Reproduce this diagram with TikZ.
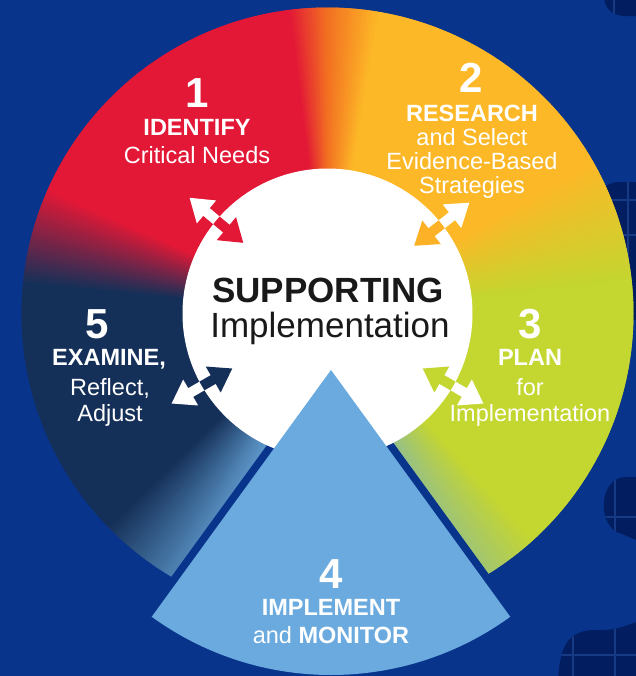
\documentclass[tikz,border=0pt]{standalone}
\usepackage{fontspec}
\setmainfont{Liberation Sans}
\usetikzlibrary{calc}
\begin{document}
\begin{tikzpicture}[x=0.5pt,y=-0.5pt]
\definecolor{bg}{RGB}{8,52,140}
\definecolor{decor}{RGB}{2,30,96}
\definecolor{decorline}{RGB}{22,58,132}
\definecolor{cred}{RGB}{226,24,54}
\definecolor{corange}{RGB}{242,110,34}
\definecolor{cgold}{RGB}{253,184,39}
\definecolor{cgreen}{RGB}{196,214,48}
\definecolor{cnavy}{RGB}{21,48,88}
\definecolor{clblue}{RGB}{106,170,222}
\colorlet{cteal}{cgreen!45!clblue}
\colorlet{cnavyl}{clblue!70!cnavy}
\tikzset{
  lbl/.style={text=white, font=\fontsize{11.75pt}{12pt}\selectfont, anchor=base, inner sep=0pt},
  lblb/.style={lbl, font=\fontsize{11.75pt}{12pt}\selectfont\bfseries},
  num/.style={text=white, font=\fontsize{21pt}{21pt}\selectfont\bfseries, anchor=base, inner sep=0pt},
  ctr/.style={text=black!90, font=\fontsize{17.5pt}{18pt}\selectfont, anchor=base, inner sep=0pt},
  ctrb/.style={ctr, font=\fontsize{17.5pt}{18pt}\selectfont\bfseries},
  dblarrow/.pic={
    \path[pic actions] (35,0) -- (13,15) -- (13,5) -- (-13,5) -- (-13,15) -- (-35,0)
      -- (-13,-15) -- (-13,-5) -- (13,-5) -- (13,-15) -- cycle;
  }
}
\useasboundingbox (0,0) rectangle (636,676);
\fill[bg] (0,0) rectangle (636,676);
% decorative dark shapes
\begin{scope}
  \clip (604,-5) .. controls (604,9) and (612,16) .. (626,16) -- (640,16) -- (640,-5) -- cycle;
  \fill[decor] (600,-5) rectangle (640,20);
  \draw[decorline, line width=1.2] (614,-5) -- (614,20);
\end{scope}
\begin{scope}
  \clip[rounded corners=14] (592,182) rectangle (660,320);
  \fill[decor] (590,180) rectangle (640,320);
  \draw[decorline, line width=1.2] (590,200) -- (640,200) (590,235) -- (640,235) (628,180) -- (628,320);
\end{scope}
\begin{scope}
  \clip (640,477) -- (626,477) .. controls (598,477) and (596,528) .. (622,534)
        .. controls (630,537) and (634,540) .. (640,541) -- cycle;
  \fill[decor] (590,470) rectangle (640,545);
  \draw[decorline, line width=1.2] (615,470) -- (615,545) (590,517) -- (640,517);
\end{scope}
\begin{scope}
  \clip (558,680) .. controls (560,652) and (564,632) .. (592,630) -- (600,630)
        .. controls (620,630) and (626,625) .. (640,621) -- (640,680) -- cycle;
  \fill[decor] (550,615) rectangle (640,680);
  \draw[decorline, line width=1.2] (573,615) -- (573,680) (615,615) -- (615,680) (550,655) -- (640,655);
\end{scope}
% main ring with conic gradient (half-degree steps)
\coordinate (C) at (327.5,313.5);
\foreach \a/\b/\ca/\cb in {-110/-64/clblue/cteal, -64/-48/cteal/cgreen, -48/6/cgreen/cgreen,
   6/30/cgreen/cgold, 30/80/cgold/cgold, 80/90/cgold/corange, 90/97/corange/cred,
   97/156/cred/cred, 156/174/cred/cnavy, 174/224/cnavy/cnavy, 224/240/cnavy/cnavyl,
   240/250/cnavyl/clblue}{
  \pgfmathtruncatemacro{\n}{2*(\b-\a)-1}
  \foreach \k in {0,...,\n}{
    \pgfmathtruncatemacro{\p}{round(50*\k/(\b-\a))}
    \pgfmathsetmacro{\th}{-(\a+0.5*\k)}
    \pgfmathsetmacro{\te}{\th-0.9}
    \fill[\cb!\p!\ca] (C) -- ++(\th:306) arc[start angle=\th, end angle=\te, radius=306] -- cycle;
  }
}
% gap around sector 4
\coordinate (G) at (331,357);
\begin{scope}
  \clip (C) circle (307);
  \fill[bg] (G) -- ++(54:480) arc[start angle=54, end angle=126, radius=480] -- cycle;
\end{scope}
% inner white circle
\fill[white] (C) circle (145);
% sector 4
\coordinate (A) at (331,370);
\fill[clblue] (A) -- ++(54:305) arc[start angle=54, end angle=126, radius=305] -- cycle;
% double arrows (inverted colours across the white circle)
\coordinate (P1) at ($(C)+(-140:145)$);
\coordinate (P2) at ($(C)+(-38:145)$);
\coordinate (P3) at ($(C)+(30:145)$);
\coordinate (P5) at ($(C)+(150:145)$);
\pic[fill=white, rotate=140] at (P1) {dblarrow};
\pic[fill=white, rotate=38] at (P2) {dblarrow};
\pic[fill=white, rotate=-30] at (P3) {dblarrow};
\pic[fill=white, rotate=-150] at (P5) {dblarrow};
\begin{scope}
  \clip (C) circle (145);
  \pic[fill=cred, rotate=140] at (P1) {dblarrow};
  \pic[fill=cgold!90!corange, rotate=38] at (P2) {dblarrow};
  \pic[fill=cgreen, rotate=-30] at (P3) {dblarrow};
  \pic[fill=cnavy, rotate=-150] at (P5) {dblarrow};
\end{scope}
% labels
\node[num] (n1) at (197,107) {1};
\node[lblb] (t1a) at (197,135.5) {IDENTIFY};
\node[lbl] (t1b) at (197,163.5) {Critical Needs};
\node[num] (n2) at (471,92) {2};
\node[lblb] (t2a) at (472,121.5) {RESEARCH};
\node[lbl] (t2b) at (472,145.5) {and Select};
\node[lbl] (t2c) at (472,169.5) {Evidence-Based};
\node[lbl] (t2d) at (472,193.5) {Strategies};
\node[num] (n3) at (530,338) {3};
\node[lblb] (t3a) at (530,365.5) {PLAN};
\node[lbl] (t3b) at (530,395.5) {for};
\node[lbl] (t3c) at (530,421) {Implementation};
\node[num] (n4) at (331,588) {4};
\node[lblb] (t4a) at (331,615.5) {IMPLEMENT};
\node[lbl] (t4b) at (331,643.5) {and \textbf{MONITOR}};
\node[num] (n5) at (97,338) {5};
\node[lblb] (t5a) at (109,365.5) {EXAMINE,};
\node[lbl] (t5b) at (110,395.5) {Reflect,};
\node[lbl] (t5c) at (110,421) {Adjust};
\node[ctrb] (s1) at (328,302) {SUPPORTING};
\node[ctr] (s2) at (330,337) {Implementation};
\end{tikzpicture}
\end{document}
